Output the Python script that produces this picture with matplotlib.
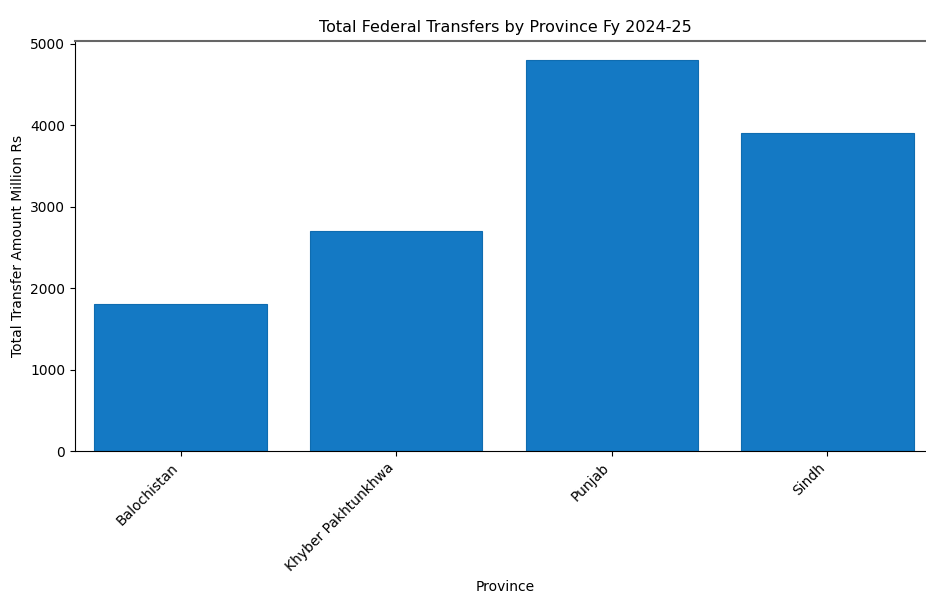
import matplotlib
matplotlib.use("Agg")
import matplotlib.pyplot as plt

provinces = ["Balochistan", "Khyber Pakhtunkhwa", "Punjab", "Sindh"]
transfers = [1800, 2700, 4800, 3900]

fig = plt.figure(figsize=(9.26, 5.94), dpi=100)
ax = fig.add_axes([0.081, 0.2407, 0.929, 0.691])

ax.bar(provinces, transfers, width=0.8, color="#1479c4", edgecolor="#0f6cb0", linewidth=0.8)
ax.set_xlim(-0.49, 3.5)

ax.set_title("Total Federal Transfers by Province Fy 2024-25", fontsize=11.5)
ax.set_xlabel("Province", fontsize=10)
ax.set_ylabel("Total Transfer Amount Million Rs", fontsize=10)
plt.setp(ax.get_xticklabels(), rotation=45, ha="right")
ax.spines["top"].set_color("#666666")
ax.spines["top"].set_linewidth(1.5)

fig.savefig("out.png", dpi=100)
